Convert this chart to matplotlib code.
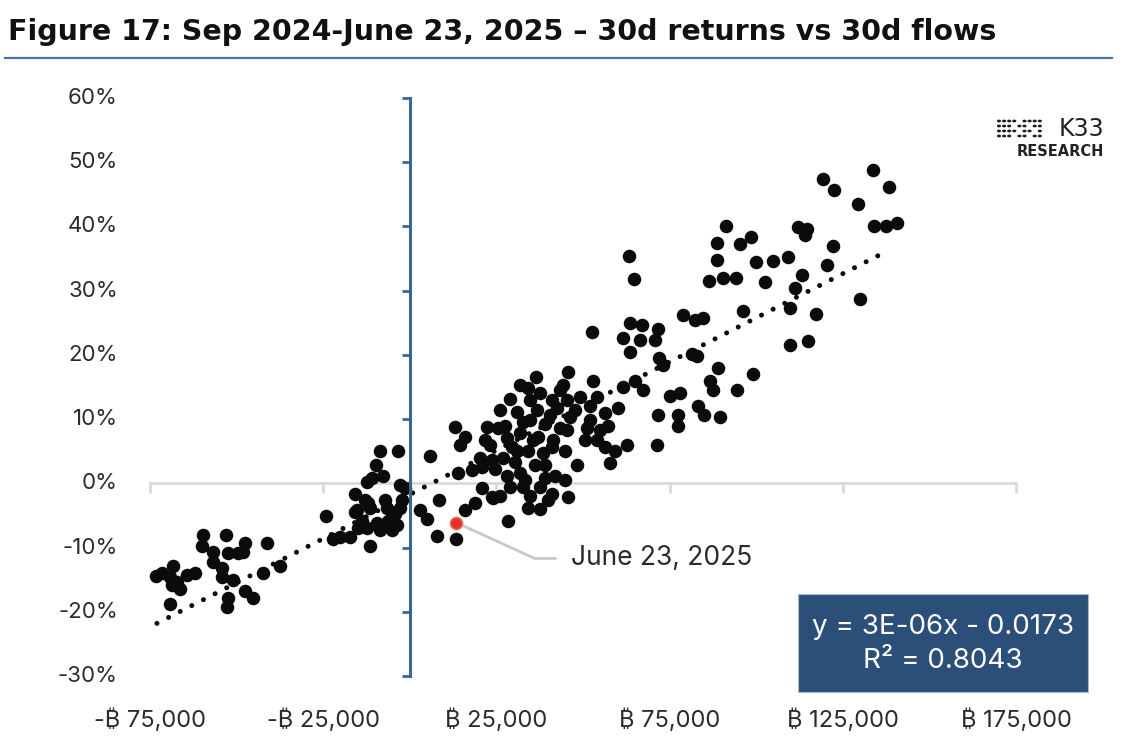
import numpy as np
import matplotlib
matplotlib.use("Agg")
import matplotlib.pyplot as plt
from matplotlib.patches import Rectangle, Circle
from matplotlib.lines import Line2D

plt.rcParams['font.family'] = ['Inter', 'Noto Sans', 'DejaVu Sans']

# ---------------- data ----------------
title = "Figure 17: Sep 2024-June 23, 2025 \u2013 30d returns vs 30d flows"

flows_btc = [
    -73300, -68400, -69300, -67300, -66400, -64400, -62100, -68700, -69300, -59800,
    -60000, -56900, -56900, -53100, -52500, -49700, -47600, -48200, -54300, -54300,
    -51100, -47600, -45300, -52500, -52800, -41300, -42400, -37500, -71600,
    -24300, -22200, -20200, -17300, -15900, -15900, -13000, -15300, -11500, -12400,
    -11000, -9800, -7800, -8700, -3500, -2900, -1400, -6600, -4300, -6400,
    -3800, -9500, -12400, -15000, -11500, -8700, -2300, -12100, 2900, 4900,
    -2900, 5800, 8400, 7800, 13300, 15900, 18800, 20800, 24000, 28300,
    34100, 37500, 45600, 13000, 15900, 14400, 22200, 25400, 21700, 28000,
    31800, 37000, 20200, 23700, 26900, 30900, 34100, 38400, 41000, 44800,
    48200, 57700, 20800, 24500, 28000, 31800, 36100, 39000, 44800, 13900,
    23700, 28900, 32600, 34600, 37500, 41000,
    45600, 52800, 36400, 31800, 34100, 44200, 37500, 28900, 41000, 45300,
    49100, 54000, 30900, 36700, 42400, 46200, 52000, 56300, 32600, 39000,
    43300, 51100, 54900, 57200, 54000, 56300, 41300, 45300, 59200, 62700,
    71300, 52500, 63500, 67000, 61500, 66400, 63500, 71600, 70700, 71900,
    73000, 78800, 82300, 84600, 81400, 82900, 61500, 65000, 67300, 60000,
    71600, 77400, 77400, 75100, 78000, 83100, 84900, 86600, 87500, 89500,
    88900, 63200, 64700, 91200, 88600, 95300, 98400, 88600, 99900, 104800,
    109100, 86300, 90400, 94100, 102500, 96100, 99000, 94400, 112000, 114600,
    114000, 122100, 120400, 113200, 111100, 109700, 117200, 109700, 114900, 119200,
    122400, 133700, 138300, 129300, 134000, 137400, 140600, 129900,
    26000, 27400, 34600, 40400, 23100, 30300, 39000, 41900, 33200, 26000,
    39800, 50500, 52000, 47600, 43300, 34600, 29400, 35500, 17900,
    -13900, -7200, -5200,
]
returns_pct = [
    -14.5, -12.8, -14.6, -15.4, -16.4, -14.3, -14.0, -15.9, -18.8, -8.1,
    -9.7, -10.7, -12.3, -8.1, -10.9, -10.9, -9.3, -10.7, -13.2, -14.6,
    -15.1, -16.7, -17.8, -17.9, -19.2, -9.3, -13.9, -12.8, -13.9,
    -5.1, -8.6, -8.4, -8.4, -1.6, -4.5, -2.6, -4.2, -3.9, 0.2,
    0.9, 2.8, 1.2, 5.0, 5.0, -0.3, -0.8, -3.9, -4.7, -5.8,
    -6.5, -6.2, -6.9, -7.0, -9.7, -7.3, -2.6, -3.1, -4.2, -5.5,
    -3.9, 4.2, -2.6, -8.2, -8.7, -4.2, -3.1, -0.8, -2.3, -5.8,
    -3.9, -4.0, -2.2, 8.7, 7.2, 5.9, 8.7, 8.6, 6.7, 7.0,
    7.8, 7.2, 3.9, 3.6, 4.0, 5.1, 5.1, 4.8, 5.6, 5.1,
    2.8, 3.1, 2.5, 2.3, 1.2, 1.6, 2.8, 0.9, 0.5, 1.6,
    -2.2, -0.6, -0.6, -1.9, -0.6, -1.6,
    17.4, 16.0, 16.5, 15.3, 14.8, 15.3, 14.0, 13.2, 12.9, 12.9,
    13.4, 13.4, 11.1, 11.4, 11.7, 10.3, 12.1, 10.9, 9.5, 9.3,
    8.6, 8.6, 8.3, 9.0, 6.7, 5.6, 6.7, 8.3, 5.1, 5.9,
    5.9, 23.5, 24.9, 24.6, 22.6, 22.3, 20.4, 24.1, 22.3, 19.5,
    18.4, 26.2, 25.4, 25.7, 20.2, 19.9, 15.0, 16.0, 14.5, 11.7,
    10.6, 10.6, 9.0, 13.6, 14.0, 12.0, 10.6, 16.0, 14.5, 10.3,
    17.9, 35.4, 31.8, 40.0, 37.4, 37.2, 38.3, 34.7, 34.4, 34.6,
    35.2, 31.5, 31.9, 31.9, 31.3, 26.8, 17.0, 14.6, 39.9, 39.6,
    38.6, 36.9, 34.0, 32.4, 30.4, 27.3, 26.3, 21.5, 22.1, 47.4,
    45.6, 48.8, 46.1, 43.5, 40.0, 40.0, 40.5, 28.7,
    11.4, 9.0, 9.8, 10.6, 5.9, 3.3, 2.8, 1.2, 0.5, -1.9,
    -2.6, 6.7, 9.8, 11.4, 14.5, 12.9, 5.6, 6.7, 2.0,
    -5.8, -2.6, -7.3,
]

latest_label = "June 23, 2025"
latest_flow = [13300]
latest_return_pct = [-6.1]

# fitted trend line (as drawn in the source)
trend_slope = 2.75e-6
trend_intercept = -0.0173
trend_x_range = [-73000, 137000]
equation_text = "y = 3E-06x - 0.0173\nR\u00b2 = 0.8043"

y_ticks_pct = [60, 50, 40, 30, 20, 10, 0, -10, -20, -30]
y_tick_labels = ["60%", "50%", "40%", "30%", "20%", "10%", "0%", "-10%", "-20%", "-30%"]
x_ticks = [-75000, -25000, 25000, 75000, 125000, 175000]
x_tick_labels = ["-\u20bf 75,000", "-\u20bf 25,000", "\u20bf 25,000",
                 "\u20bf 75,000", "\u20bf 125,000", "\u20bf 175,000"]

# ---------------- figure ----------------
W, H = 1124, 742
fig = plt.figure(figsize=(W / 100, H / 100), dpi=100)
fig.patch.set_facecolor('white')

ax = fig.add_axes([150 / W, 66 / H, 866 / W, 578 / H])
ax.set_xlim(-75000, 175000)
ax.set_ylim(-0.30, 0.60)
ax.set_facecolor('none')

axis_blue = '#3d6592'
for s in ['top', 'right']:
    ax.spines[s].set_visible(False)
ax.spines['left'].set_position(('data', 0))
ax.spines['left'].set_color(axis_blue)
ax.spines['left'].set_linewidth(2.2)
ax.spines['left'].set_zorder(4)
ax.spines['bottom'].set_position(('data', 0))
ax.spines['bottom'].set_color('#dadada')
ax.spines['bottom'].set_linewidth(2)
ax.spines['bottom'].set_zorder(1)

ax.set_yticks([v / 100 for v in y_ticks_pct])
ax.set_xticks(x_ticks)
ax.tick_params(axis='y', direction='out', length=6, width=2, color=axis_blue, labelleft=False)
ax.tick_params(axis='x', direction='out', length=7, width=2, color='#dadada', labelbottom=False)

label_color = '#2b2b2b'
for v, lab in zip(y_ticks_pct, y_tick_labels):
    ax.text(-0.037, v / 100, lab, transform=ax.get_yaxis_transform(),
            ha='right', va='center', fontsize=16, color=label_color)
for v, lab in zip(x_ticks, x_tick_labels):
    ax.text(v, -0.076, lab, transform=ax.get_xaxis_transform(),
            ha='center', va='center', fontsize=17, color=label_color)

# scatter
ax.scatter(flows_btc, np.array(returns_pct) / 100, s=95, c='#0b0b0b',
           linewidths=0, zorder=3, clip_on=False)

# trend line
tx = np.array(trend_x_range, dtype=float)
ty = trend_slope * tx + trend_intercept
ax.plot(tx, ty, color='#0b0b0b', lw=3.6, linestyle=(0, (0.01, 2.6)),
        dash_capstyle='round', zorder=3)

# latest point + annotation
ax.scatter(latest_flow, np.array(latest_return_pct) / 100, s=80, c='#e3342a',
           edgecolors='#f07a70', linewidths=1, zorder=5)
ax.annotate(latest_label, xy=(latest_flow[0], latest_return_pct[0] / 100),
            xytext=(46500, -0.117), ha='left', va='center', fontsize=19,
            color=label_color,
            arrowprops=dict(arrowstyle='-', color='#c5c9ce', lw=2,
                            connectionstyle='angle,angleA=0,angleB=-24.5,rad=0',
                            relpos=(0, 0.5), shrinkA=9, shrinkB=3),
            zorder=2)

# equation box
fig.add_artist(Rectangle((798 / W, 1 - 692 / H), 290 / W, 98 / H,
                         transform=fig.transFigure, facecolor='#2c4f7a',
                         edgecolor='#a9bbd0', lw=0.8, zorder=5))
fig.text(943 / W, 1 - 644 / H, equation_text, ha='center', va='center',
         fontsize=20, color='white', linespacing=1.45, zorder=6)

# title + rule
fig.text(8 / W, 1 - 32 / H, title, ha='left', va='center', fontsize=20.5,
         fontweight='bold', color='#111111', family=['DejaVu Sans'])
fig.add_artist(Line2D([5 / W, 1112 / W], [1 - 57.5 / H] * 2, color='#4f73a0',
                      lw=1.6, transform=fig.transFigure))

# K33 logo
pattern = [
    "111101111",
    "111011011",
    "111101101",
    "111011011",
]
for r, row in enumerate(pattern):
    for c, ch in enumerate(row):
        if ch == '1':
            cx = 999 + c * 5.1
            cy = 121 + r * 5.0
            fig.add_artist(Circle((cx / W, 1 - cy / H), 2.1 / W,
                                  transform=fig.transFigure, color='#1e1e1e', lw=0))
fig.text(1104 / W, 1 - 129 / H, "K33", ha='right', va='center', fontsize=17,
         color='#222222', family=['DejaVu Sans'])
fig.text(1104 / W, 1 - 151 / H, "RESEARCH", ha='right', va='center', fontsize=10.5,
         fontweight='bold', color='#222222', family=['DejaVu Sans'])

fig.savefig("out.png", dpi=100, facecolor='white')
